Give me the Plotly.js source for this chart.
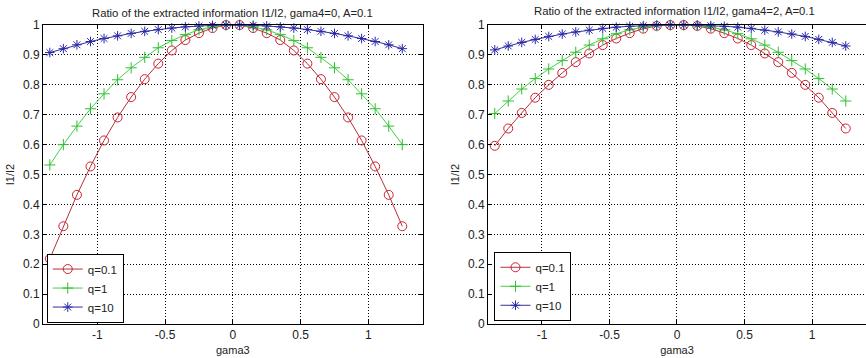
<!DOCTYPE html>
<html>
<head>
<meta charset="utf-8">
<script src="https://cdn.plot.ly/plotly-3.0.1.min.js"></script>
<style>html,body{margin:0;padding:0;background:#fff;}#chart{width:866px;height:358px;}</style>
</head>
<body>
<div id="chart"></div>
<script>
const gama3 = [-1.35,-1.25,-1.15,-1.05,-0.95,-0.85,-0.75,-0.65,-0.55,-0.45,-0.35,-0.25,-0.15,-0.05,
               0.05,0.15,0.25,0.35,0.45,0.55,0.65,0.75,0.85,0.95,1.05,1.15,1.25];

// Left panel: gama4=0
const leftQ01 = [0.218,0.327,0.432,0.527,0.614,0.691,0.759,0.819,0.871,0.915,0.950,0.973,0.990,1.000,
                 1.000,0.990,0.973,0.950,0.915,0.871,0.819,0.759,0.691,0.614,0.527,0.432,0.327];
const leftQ1  = [0.532,0.600,0.662,0.720,0.770,0.817,0.857,0.892,0.924,0.948,0.968,0.984,0.994,1.000,
                 1.000,0.994,0.984,0.968,0.948,0.924,0.892,0.857,0.817,0.770,0.720,0.662,0.600];
const leftQ10 = [0.908,0.921,0.934,0.945,0.955,0.964,0.972,0.979,0.985,0.990,0.994,0.997,0.999,1.000,
                 1.000,0.999,0.997,0.994,0.990,0.985,0.979,0.972,0.964,0.955,0.945,0.934,0.921];

// Right panel: gama4=2
const rightQ01 = [0.596,0.654,0.706,0.757,0.800,0.840,0.876,0.905,0.933,0.955,0.973,0.988,0.997,1.000,
                  1.000,0.997,0.988,0.973,0.955,0.933,0.905,0.876,0.840,0.800,0.757,0.706,0.654];
const rightQ1  = [0.704,0.746,0.786,0.821,0.853,0.881,0.909,0.933,0.954,0.971,0.984,0.993,0.998,1.000,
                  1.000,0.998,0.993,0.984,0.971,0.954,0.933,0.909,0.881,0.853,0.821,0.786,0.746];
const rightQ10 = [0.917,0.930,0.942,0.952,0.962,0.970,0.977,0.983,0.989,0.993,0.996,0.998,0.9995,1.000,
                  1.000,0.9995,0.998,0.996,0.993,0.989,0.983,0.977,0.970,0.962,0.952,0.942,0.930];

const seriesNames = ['q=0.1','q=1','q=10'];
const titles = ['Ratio of the extracted information I1/I2, gama4=0, A=0.1',
                'Ratio of the extracted information I1/I2, gama4=2, A=0.1'];
const xTickVals = [-1,-0.5,0,0.5,1];
const xTickText = ['-1','-0.5','0','0.5','1'];
const yTickVals = [0,0.1,0.2,0.3,0.4,0.5,0.6,0.7,0.8,0.9,1];
const yTickText = ['0','0.1','0.2','0.3','0.4','0.5','0.6','0.7','0.8','0.9','1'];

const styles = [
  {line:'#b4303c', mcolor:'#d02030', symbol:'circle-open', size:9},
  {line:'#44d044', mcolor:'#30c030', symbol:'cross-thin-open', size:8},
  {line:'#3030a0', mcolor:'#2828a8', symbol:'asterisk-open', size:8}
];

function mk(y, i, xa, ya, leg) {
  const s = styles[i];
  return {
    x: gama3, y: y, type:'scatter', mode:'lines+markers', name: seriesNames[i],
    xaxis: xa, yaxis: ya, legend: leg, cliponaxis:false,
    line:{color:s.line, width:1},
    marker:{symbol:s.symbol, size:s.size, color:s.mcolor, line:{color:s.mcolor, width:1}}
  };
}

const data = [
  mk(leftQ01,0,'x','y','legend'), mk(leftQ1,1,'x','y','legend'), mk(leftQ10,2,'x','y','legend'),
  mk(rightQ01,0,'x2','y2','legend2'), mk(rightQ1,1,'x2','y2','legend2'), mk(rightQ10,2,'x2','y2','legend2')
];

const fam = '"Liberation Sans", Arial, sans-serif';
const font = {family:fam, size:12, color:'#222'};
function xax(dom, anchor, mirror) {
  return {domain:dom, anchor:anchor, range:[-1.4,1.4], tickvals:xTickVals, ticktext:xTickText,
    showline:true, linecolor:'#000', linewidth:1, mirror:mirror, ticks:'inside', ticklen:4, tickcolor:'#000',
    showgrid:true, gridcolor:'#000', griddash:'1px,2px', gridwidth:1, zeroline:false,
    tickfont:{family:fam, size:12, color:'#222'},
    title:{text:'gama3', font:{family:fam, size:11, color:'#222'}, standoff:4}};
}
function yax(dom, anchor, mirror) {
  return {domain:dom, anchor:anchor, range:[0,1], tickvals:yTickVals, ticktext:yTickText,
    showline:true, linecolor:'#000', linewidth:1, mirror:mirror, ticks:'inside', ticklen:4, tickcolor:'#000',
    showgrid:true, gridcolor:'#000', griddash:'1px,2px', gridwidth:1, zeroline:false,
    tickfont:{family:fam, size:12, color:'#222'},
    title:{text:'I1/I2', font:{family:fam, size:11, color:'#222'}, standoff:6}};
}

const legendBase = {bgcolor:'#fff', bordercolor:'#000', borderwidth:1,
  font:{family:fam, size:11.5, color:'#222'}, xanchor:'left', yanchor:'bottom',
  tracegroupgap:0, itemwidth:30};

const layout = {
  width:866, height:358, margin:{l:0, r:0, t:0, b:0},
  paper_bgcolor:'#fff', plot_bgcolor:'#fff', font:font,
  xaxis: xax([0.0497,0.488],'y','ticks'),
  yaxis: yax([0.095,0.93],'x','ticks'),
  xaxis2: xax([0.5635,1.0],'y2','ticks'),
  yaxis2: yax([0.095,0.93],'x2',false),
  legend: Object.assign({x:0.054, y:0.099}, legendBase),
  legend2: Object.assign({x:0.571, y:0.104}, legendBase),
  showlegend:true,
  annotations:[
    {text:titles[0], xref:'paper', yref:'paper', x:0.268, y:0.965, xanchor:'center', yanchor:'middle', showarrow:false,
     font:{family:fam, size:11.3, color:'#222'}},
    {text:titles[1], xref:'paper', yref:'paper', x:0.779, y:0.968, xanchor:'center', yanchor:'middle', showarrow:false,
     font:{family:fam, size:11.3, color:'#222'}}
  ]
};

Plotly.newPlot('chart', data, layout, {displayModeBar:false, staticPlot:true});
</script>
</body>
</html>
